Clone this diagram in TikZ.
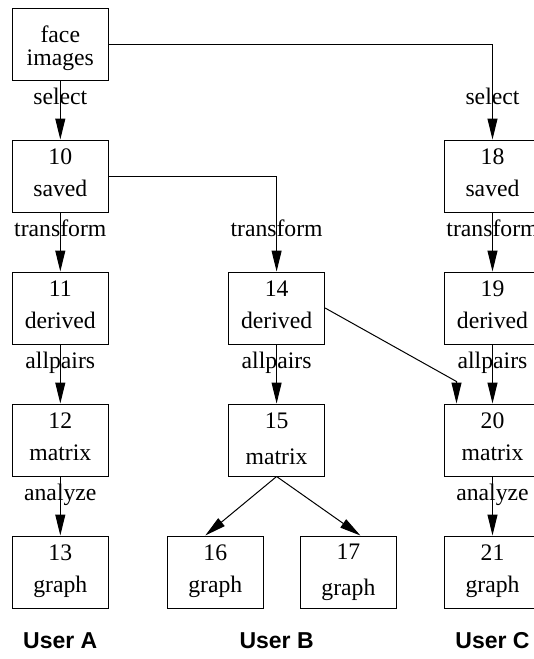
\documentclass[tikz,border=0pt]{standalone}
\usepackage{fontspec}
\setmainfont{Liberation Serif}
\newfontfamily\usrfont{Liberation Sans}
\usetikzlibrary{arrows.meta}
\newcommand\bxa[2]{\rule{0pt}{17pt}#1\\#2\rule[-9pt]{0pt}{9pt}}
\newcommand\bxb[2]{\rule{0pt}{17pt}#1\\[4pt]#2\rule[-5pt]{0pt}{5pt}}
\begin{document}
\begin{tikzpicture}[x=1pt,y=-1pt,
  box/.style={draw, line width=1pt, minimum width=96pt, minimum height=72pt, inner sep=0pt, align=center, font=\fontsize{23.7}{32}\selectfont},
  lbl/.style={anchor=base, inner sep=0pt, font=\fontsize{23.7}{28}\selectfont},
  usr/.style={anchor=base, inner sep=0pt, font=\usrfont\bfseries\fontsize{23}{28}\selectfont},
  arr/.style={line width=1pt, -{Triangle[length=21pt,width=10pt]}}]
\useasboundingbox (0,0) rectangle (534,659);
% nodes
\node[box] (n1) at (60.3,44) {\rule{0pt}{26pt}face\\[-9pt]images};
\node[box] (n10) at (60.3,176) {\bxa{10}{saved}};
\node[box] (n11) at (60.3,308) {\bxa{11}{derived}};
\node[box] (n12) at (60.3,440) {\bxa{12}{matrix}};
\node[box] (n13) at (60.3,572) {\bxa{13}{graph}};
\node[box] (n14) at (276.6,308) {\bxa{14}{derived}};
\node[box] (n15) at (276.6,440) {\bxb{15}{matrix}};
\node[box] (n16) at (215.3,572) {\bxa{16}{graph}};
\node[box] (n17) at (348.4,572) {\bxb{17}{graph}};
\node[box] (n18) at (492.5,176) {\bxa{18}{saved}};
\node[box] (n19) at (492.5,308) {\bxa{19}{derived}};
\node[box] (n20) at (492.5,440) {\bxa{20}{matrix}};
\node[box] (n21) at (492.5,572) {\bxa{21}{graph}};
% edges
\draw[arr] (n1) -- (n10);
\draw[arr] (n1.east) -| (n18.north);
\draw[arr] (n10) -- (n11);
\draw[arr] (n11) -- (n12);
\draw[arr] (n12) -- (n13);
\draw[arr] (n10.east) -| (n14.north);
\draw[arr] (n14) -- (n15);
\draw[arr] (n15.south) -- ([xshift=-10pt]n16.north);
\draw[arr] (n15.south) -- ([xshift=12pt]n17.north);
\draw[arr] (n14.east) -- ([xshift=-36pt,yshift=22pt]n20.north) -- ([xshift=-36pt]n20.north);
\draw[arr] (n18) -- (n19);
\draw[arr] (n19) -- (n20);
\draw[arr] (n20) -- (n21);
% edge labels
\node[lbl] (s1) at (60.3,104) {select};
\node[lbl] (s2) at (492.5,104) {select};
\node[lbl] (t1) at (60.3,236) {transform};
\node[lbl] (t2) at (276.6,236) {transform};
\node[lbl] (t3) at (492.5,236) {transform};
\node[lbl] (a1) at (60.3,368) {allpairs};
\node[lbl] (a2) at (276.6,368) {allpairs};
\node[lbl] (a3) at (492.5,368) {allpairs};
\node[lbl] (z1) at (60.3,500) {analyze};
\node[lbl] (z3) at (492.5,500) {analyze};
% user labels
\node[usr] (ua) at (60.3,648) {User A};
\node[usr] (ub) at (276.6,648) {User B};
\node[usr] (uc) at (492.5,648) {User C};
\end{tikzpicture}
\end{document}
